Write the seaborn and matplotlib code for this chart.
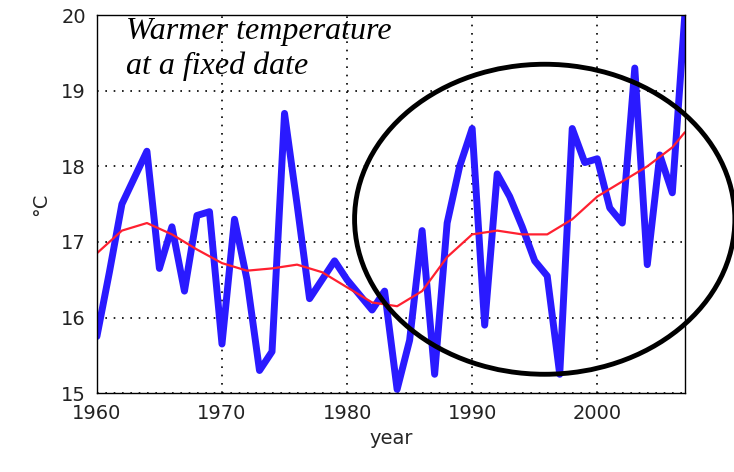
import matplotlib
matplotlib.use("Agg")
import matplotlib.pyplot as plt
from matplotlib.patches import Ellipse
import seaborn as sns
import pandas as pd

years = list(range(1960, 2008))
temps = [15.75, 16.6, 17.5, 17.85, 18.2, 16.65, 17.2, 16.35, 17.35, 17.4,
         15.65, 17.3, 16.5, 15.3, 15.55, 18.7, 17.5, 16.25, 16.5, 16.75,
         16.5, 16.3, 16.1, 16.35, 15.05, 15.7, 17.15, 15.25, 17.25, 18.0,
         18.5, 15.9, 17.9, 17.6, 17.2, 16.75, 16.55, 15.25, 18.5, 18.05,
         18.1, 17.45, 17.25, 19.3, 16.7, 18.15, 17.65, 20.0]
smooth_years = [1960, 1962, 1964, 1966, 1968, 1970, 1972, 1974, 1976, 1978, 1980,
                1982, 1984, 1986, 1988, 1990, 1992, 1994, 1996, 1998, 2000,
                2002, 2004, 2006, 2007]
smooth_vals = [16.85, 17.15, 17.25, 17.1, 16.9, 16.72, 16.62, 16.65, 16.7, 16.6, 16.4,
               16.2, 16.15, 16.35, 16.8, 17.1, 17.15, 17.1, 17.1, 17.3, 17.6,
               17.8, 18.0, 18.25, 18.45]

sns.set_style("white")
fig = plt.figure(figsize=(7.34, 4.72), dpi=100)
ax = fig.add_axes([0.132, 0.167, 0.801, 0.801])
sns.lineplot(x=years, y=temps, ax=ax, color="#2a1aff", lw=5)
sns.lineplot(x=smooth_years, y=smooth_vals, ax=ax, color="#ff2030", lw=1.6)
ax.set_xlim(1960, 2007)
ax.set_ylim(15, 20)
ax.set_xticks([1960, 1970, 1980, 1990, 2000])
ax.set_yticks([15, 16, 17, 18, 19, 20])
ax.grid(True, color="black", linestyle=(0, (1, 4)), lw=1.2)
for s in ax.spines.values():
    s.set_color("black"); s.set_linewidth(1)
ax.tick_params(labelsize=14, colors="#222222", direction="in", length=4, pad=8)
ax.set_xlabel("year", fontsize=14, labelpad=4)
ax.set_ylabel("°C", fontsize=14, labelpad=8)
ax.add_patch(Ellipse((1995.8, 17.3), 30.4, 4.1, fill=False, lw=3.5,
                     color="black", clip_on=False, zorder=5))
ax.text(1962.3, 19.55, "Warmer temperature\nat a fixed date", fontsize=23,
        family="Liberation Serif", style="italic", va="center", linespacing=1.25,
        color="black")
fig.savefig("out.png", dpi=100)
